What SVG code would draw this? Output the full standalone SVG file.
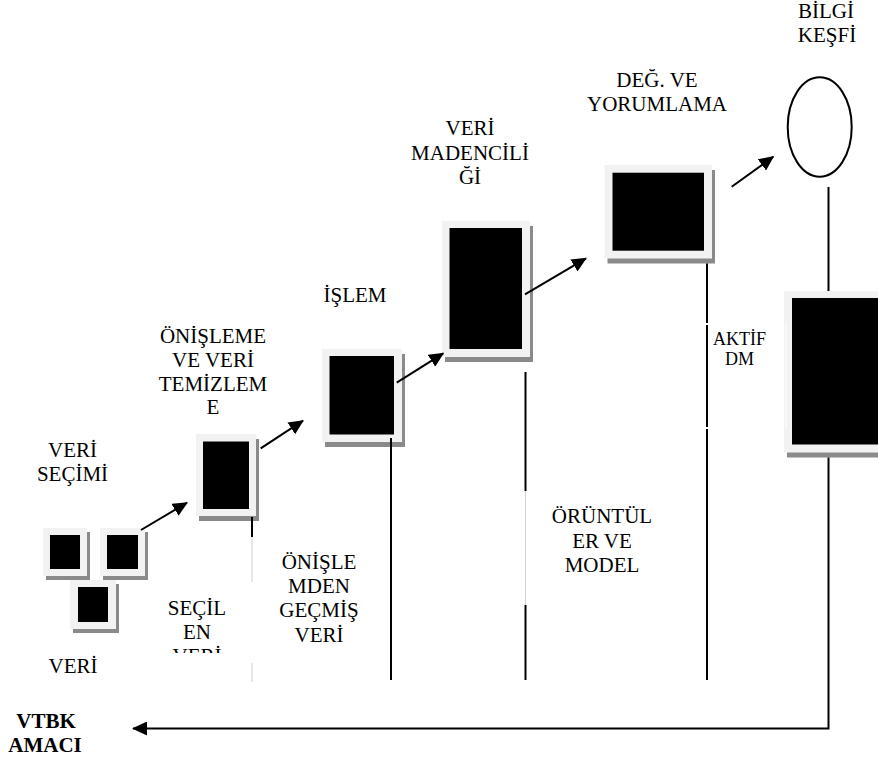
<svg xmlns="http://www.w3.org/2000/svg" width="878" height="762" viewBox="0 0 878 762">
<style>
  text { font-family: "Liberation Serif", "Times New Roman", serif; font-size: 21px; fill: #000; text-anchor: middle; }
  .small { font-size: 18px; }
  .bold { font-weight: bold; }
  .frame { fill: #f2f2f2; }
  .shadow { fill: #8a8a8a; }
  .core { fill: #000; }
  .ln { stroke: #000; stroke-width: 2; fill: none; }
  .faint { stroke: #d0d0d0; stroke-width: 1; fill: none; }
  .gap { stroke: #fff; stroke-width: 1; fill: none; }
</style>
<defs>
  <marker id="ah" viewBox="0 0 15 14" refX="14" refY="7" markerWidth="15" markerHeight="14" markerUnits="userSpaceOnUse" orient="auto">
    <path d="M0,0 L15,7 L0,14 z" fill="#000"/>
  </marker>
  <clipPath id="clipSecil">
    <rect x="150" y="590" width="110" height="63"/>
  </clipPath>
</defs>
<rect width="878" height="762" fill="#fff"/>

<g id="veri-a">
  <rect class="shadow" x="46" y="532" width="44" height="48"/>
  <rect class="frame" x="43" y="528" width="44" height="48"/>
  <rect class="core" x="50" y="535" width="30" height="34"/>
</g>
<g id="veri-b">
  <rect class="shadow" x="103" y="532" width="45" height="48"/>
  <rect class="frame" x="100" y="528" width="45" height="48"/>
  <rect class="core" x="107" y="535" width="31" height="34"/>
</g>
<g id="veri-c">
  <rect class="shadow" x="73" y="584" width="46" height="49"/>
  <rect class="frame" x="70" y="580" width="46" height="49"/>
  <rect class="core" x="78" y="587" width="30" height="35"/>
</g>
<g id="onisleme">
  <rect class="shadow" x="199" y="439" width="60" height="82"/>
  <rect class="frame" x="196" y="434" width="60" height="82"/>
  <rect class="core" x="203" y="441.5" width="46" height="67.5"/>
</g>
<g id="islem">
  <rect class="shadow" x="325" y="354" width="80" height="93"/>
  <rect class="frame" x="322" y="349" width="80" height="93"/>
  <rect class="core" x="329.5" y="356" width="64.5" height="78.5"/>
</g>
<g id="veri-madenciligi">
  <rect class="shadow" x="445" y="226" width="88" height="136"/>
  <rect class="frame" x="442" y="221" width="88" height="136"/>
  <rect class="core" x="449.5" y="228" width="72.5" height="121"/>
</g>
<g id="deg-yorumlama">
  <rect class="shadow" x="607.5" y="170" width="107.5" height="93.5"/>
  <rect class="frame" x="604.5" y="165" width="107.5" height="93.5"/>
  <rect class="core" x="612.5" y="172.7" width="91.5" height="78"/>
</g>
<g id="aktif-dm-box">
  <rect class="shadow" x="787" y="296" width="110" height="161.5"/>
  <rect class="frame" x="784" y="291" width="110" height="161.5"/>
  <rect class="core" x="792" y="298" width="100" height="146.5"/>
  <line class="gap" x1="786" y1="323" x2="786" y2="428"/>
</g>
<g id="bilgi-kesfi">
  <ellipse cx="819.7" cy="127" rx="32" ry="49.7" fill="#fff" stroke="#000" stroke-width="2"/>
</g>

<g id="connectors">
  <line class="ln" x1="141" y1="530" x2="187" y2="502.7" marker-end="url(#ah)"/>
  <line class="ln" x1="260.7" y1="448.3" x2="303" y2="420.7" marker-end="url(#ah)"/>
  <line class="ln" x1="396.7" y1="382.7" x2="443.3" y2="353.3" marker-end="url(#ah)"/>
  <line class="ln" x1="525" y1="294.3" x2="586" y2="258.3" marker-end="url(#ah)"/>
  <line class="ln" x1="731.7" y1="186.7" x2="773.3" y2="156.7" marker-end="url(#ah)"/>
  <line class="ln" x1="828.5" y1="187" x2="828.5" y2="291"/>
  <path class="ln" d="M828.5,457.5 V728.5 H133" marker-end="url(#ah)"/>

  <line class="ln" x1="252" y1="517" x2="252" y2="537"/>
  <line class="faint" x1="252" y1="537" x2="252" y2="582"/>
  <line class="faint" x1="252" y1="663" x2="252" y2="682"/>

  <line class="ln" x1="391" y1="438" x2="391" y2="680"/>

  <line class="ln" x1="525.5" y1="372" x2="525.5" y2="491"/>
  <line class="faint" x1="525.5" y1="491" x2="525.5" y2="605"/>
  <line class="ln" x1="525.5" y1="605" x2="525.5" y2="680"/>

  <line class="ln" x1="707" y1="263.5" x2="707" y2="323"/>
  <line class="ln" x1="707" y1="325" x2="707" y2="427"/>
  <line class="ln" x1="707" y1="429" x2="707" y2="680"/>
</g>

<g id="labels">
  <text x="826" y="17.5">BİLGİ</text>
  <text x="827" y="41.7">KEŞFİ</text>

  <text x="657" y="86.7">DEĞ. VE</text>
  <text x="657" y="111">YORUMLAMA</text>

  <text x="470" y="135">VERİ</text>
  <text x="470" y="160">MADENCİLİ</text>
  <text x="470" y="184">Ğİ</text>

  <text x="355" y="302.3">İŞLEM</text>

  <text x="213" y="343">ÖNİŞLEME</text>
  <text x="213" y="367">VE VERİ</text>
  <text x="213" y="391">TEMİZLEM</text>
  <text x="213" y="414">E</text>

  <text x="72.5" y="456.7">VERİ</text>
  <text x="72.5" y="481">SEÇİMİ</text>

  <g clip-path="url(#clipSecil)">
    <text x="197" y="615">SEÇİL</text>
    <text x="197" y="638.5">EN</text>
    <text x="197" y="662.5">VERİ</text>
  </g>

  <text x="73" y="673.3">VERİ</text>

  <text x="319" y="569.3">ÖNİŞLE</text>
  <text x="319" y="593">MDEN</text>
  <text x="319" y="617.3">GEÇMİŞ</text>
  <text x="319" y="642">VERİ</text>

  <text x="602" y="523.3">ÖRÜNTÜL</text>
  <text x="602" y="547.5">ER VE</text>
  <text x="602" y="571.7">MODEL</text>

  <text class="small" x="739.5" y="345">AKTİF</text>
  <text class="small" x="739.5" y="365">DM</text>

  <text class="bold" x="46" y="728.3">VTBK</text>
  <text class="bold" x="45" y="751.7">AMACI</text>
</g>
</svg>
